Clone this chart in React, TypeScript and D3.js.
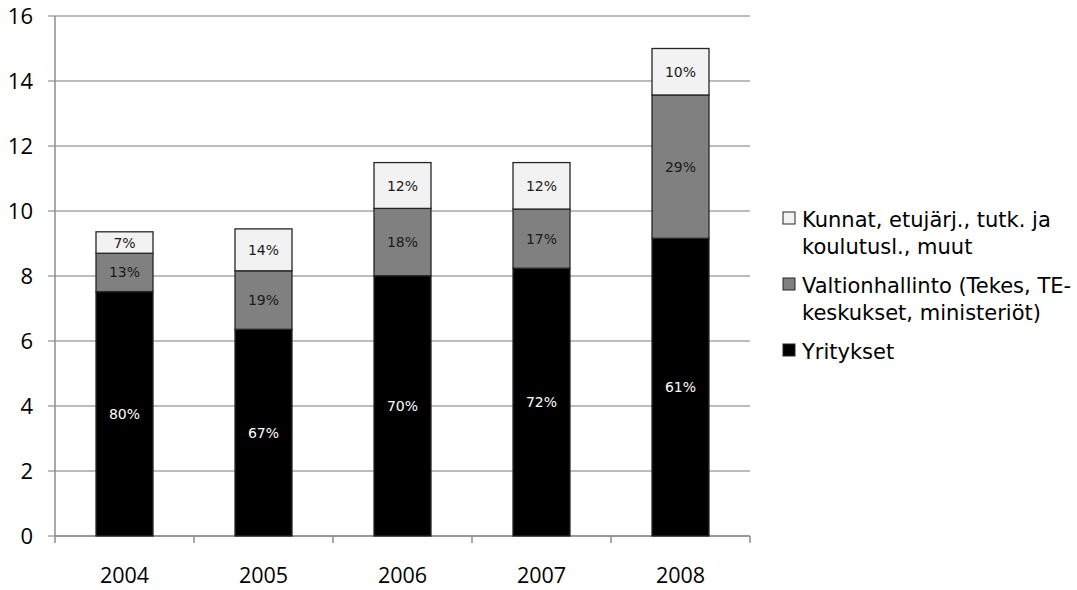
import React from "react";
import * as d3 from "d3";

const years = ["2004", "2005", "2006", "2007", "2008"];
const yritykset = [7.52, 6.36, 8.01, 8.24, 9.16];
const valtionhallinto = [1.18, 1.8, 2.07, 1.82, 4.41];
const kunnat = [0.66, 1.29, 1.41, 1.43, 1.43];
const pctYritykset = ["80%", "67%", "70%", "72%", "61%"];
const pctValtion = ["13%", "19%", "18%", "17%", "29%"];
const pctKunnat = ["7%", "14%", "12%", "12%", "10%"];
const yTicks = [0, 2, 4, 6, 8, 10, 12, 14, 16];

const seriesDefs = [
  { key: "yritykset", values: yritykset, pct: pctYritykset, fill: "#000000", text: "#ffffff" },
  { key: "valtion", values: valtionhallinto, pct: pctValtion, fill: "#808080", text: "#1a1a1a" },
  { key: "kunnat", values: kunnat, pct: pctKunnat, fill: "#f2f2f2", text: "#1a1a1a" },
];

const legendItems = [
  { lines: ["Kunnat, etujärj., tutk. ja", "koulutusl., muut"], fill: "#f2f2f2" },
  { lines: ["Valtionhallinto (Tekes, TE-", "keskukset, ministeriöt)"], fill: "#808080" },
  { lines: ["Yritykset"], fill: "#000000" },
];

export default function App() {
  const W = 1077, H = 590;
  const left = 55, right = 750, top = 16, bottom = 536;
  const x = d3.scaleBand().domain(years).range([left, right]).paddingInner(0.59).paddingOuter(0.295);
  const xb = d3.scaleBand().domain(years).range([left, right]);
  const y = d3.scaleLinear().domain([0, 16]).range([bottom, top]);
  const font = "'Open Sans', 'Noto Sans', sans-serif";

  const rows = years.map((yr, i) => {
    const o: any = { year: yr };
    seriesDefs.forEach((s) => (o[s.key] = s.values[i]));
    return o;
  });
  const stacked = d3.stack<any>().keys(seriesDefs.map((s) => s.key))(rows);

  return (
    <svg width={W} height={H} style={{ position: "absolute", left: 0, top: 0 }} fontFamily={font}>
      <rect width={W} height={H} fill="#fff" />
      {yTicks.map((t) => (
        <g key={t}>
          <line x1={48} x2={right} y1={y(t)} y2={y(t)} stroke="#a6a6a6" strokeWidth={1.3} />
          <text x={33} y={y(t)} dy="0.36em" textAnchor="end" fontSize={22} fill="#000">{t}</text>
        </g>
      ))}
      <line x1={left} x2={left} y1={top} y2={bottom} stroke="#8c8c8c" strokeWidth={1.5} />
      <line x1={left} x2={right} y1={bottom} y2={bottom} stroke="#8c8c8c" strokeWidth={1.5} />
      {[...years.map((yr) => xb(yr)!), right].map((px, i) => (
        <line key={i} x1={px} x2={px} y1={bottom} y2={bottom + 7} stroke="#8c8c8c" strokeWidth={1.5} />
      ))}
      {years.map((yr) => (
        <text key={yr} x={x(yr)! + x.bandwidth() / 2} y={583} textAnchor="middle" fontSize={21.5} fill="#000">{yr}</text>
      ))}
      {stacked.map((layer, si) => (
        <g key={layer.key}>
          {layer.map((d, i) => {
            const x0 = x(years[i])!;
            const y0 = y(d[1]);
            const h = y(d[0]) - y(d[1]);
            return (
              <g key={i}>
                <rect x={x0} y={y0} width={x.bandwidth()} height={h} fill={seriesDefs[si].fill} stroke="#262626" strokeWidth={1.3} />
                <text x={x0 + x.bandwidth() / 2} y={y0 + h / 2} dy="0.36em" textAnchor="middle" fontSize={14} fill={seriesDefs[si].text} fontFamily="'DejaVu Sans', sans-serif">
                  {seriesDefs[si].pct[i]}
                </text>
              </g>
            );
          })}
        </g>
      ))}
      {(() => {
        let yy = 227;
        return legendItems.map((item, k) => {
          const baseY = yy;
          yy += item.lines.length * 27 + 12;
          return (
            <g key={k}>
              <rect x={783} y={baseY - 15} width={12} height={12} fill={item.fill} stroke="#262626" strokeWidth={1} />
              {item.lines.map((ln, j) => (
                <text key={j} x={802} y={baseY + j * 27} fontSize={21} fill="#000" fontFamily="'DejaVu Sans', sans-serif">{ln}</text>
              ))}
            </g>
          );
        });
      })()}
    </svg>
  );
}
